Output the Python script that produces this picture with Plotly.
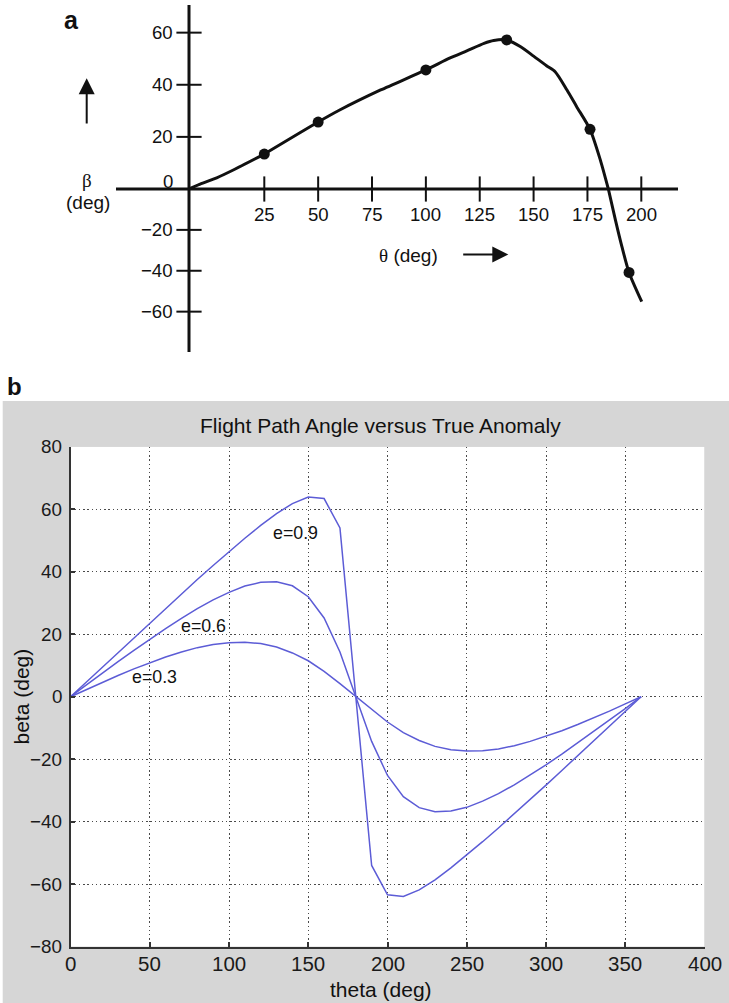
import plotly.graph_objects as go

W, H = 729, 1003


def px(x):
    """horizontal pixel -> paper fraction"""
    return x / W


def py(y):
    """vertical pixel (from top) -> paper fraction"""
    return 1 - y / H


# ---------------- panel a: sketch of beta versus theta ----------------
theta_a = [0, 3.7, 9.2, 14.7, 25, 50, 60, 79, 100, 111, 119, 127, 131.5, 137.5,
           144, 150, 156, 160, 165.5, 170, 176.2, 181, 184.7, 188, 191, 194.3, 200.2]
beta_a = [0, 1.9, 4.3, 7.3, 13.4, 25.7, 30.3, 38.0, 45.7, 50.2, 53.0, 55.9, 57.0, 57.2,
          54.6, 51.0, 47.3, 45.0, 38.0, 31.6, 22.9, 11.1, 0, -15.2, -28.2, -40.8, -55.1]
theta_pts = [25, 50, 100, 137.5, 176.2, 194.3]
beta_pts = [13.4, 25.7, 45.7, 57.2, 22.9, -40.8]
xticks_a = [25, 50, 75, 100, 125, 150, 175, 200]
yticks_a = [60, 40, 20, -20, -40, -60]

# ---------------- panel b: flight path angle for three eccentricities ----------------
theta_b = list(range(0, 361, 10))
beta_e03 = [0, 2.3, 4.6, 6.8, 8.9, 10.9, 12.7, 14.3, 15.7, 16.7, 17.3, 17.4, 17.0, 15.9, 14.0,
            11.5, 8.1, 4.2, 0, -4.2, -8.1, -11.5, -14.0, -15.9, -17.0, -17.4, -17.3, -16.7,
            -15.7, -14.3, -12.7, -10.9, -8.9, -6.8, -4.6, -2.3, 0]
beta_e06 = [0, 3.8, 7.5, 11.2, 14.8, 18.4, 21.8, 25.1, 28.2, 31.0, 33.4, 35.4, 36.6, 36.8, 35.5,
            32.0, 25.2, 14.3, 0, -14.3, -25.2, -32.0, -35.5, -36.8, -36.6, -35.4, -33.4, -31.0,
            -28.2, -25.1, -21.8, -18.4, -14.8, -11.2, -7.5, -3.8, 0]
beta_e09 = [0, 4.7, 9.5, 14.2, 18.9, 23.6, 28.3, 32.9, 37.5, 42.0, 46.4, 50.7, 54.8, 58.6, 61.8,
            63.9, 63.4, 54.0, 0, -54.0, -63.4, -63.9, -61.8, -58.6, -54.8, -50.7, -46.4, -42.0,
            -37.5, -32.9, -28.3, -23.6, -18.9, -14.2, -9.5, -4.7, 0]
series_b = [("e=0.3", beta_e03), ("e=0.6", beta_e06), ("e=0.9", beta_e09)]
xticks_b = list(range(0, 401, 50))
yticks_b = list(range(-80, 81, 20))

# ---------------- geometry (pixels) ----------------
# panel a: axes cross at (AX_X, AX_Y); the sketch scale differs between
# the first x interval and the rest, and between positive and negative beta
AX_X, AX_Y = 189, 189
X25, XEND, XLEFT = 264.3, 678, 116
YTOP, YBOT = 5, 352
SX1 = 2.1543             # px per degree beyond 25
SYP, SYN = 2.606, 2.044  # px per degree above / below zero
# panel b plot box
BX0, BX1, BY0, BY1 = 70.5, 704.5, 446.7, 946.7

SANS = "Liberation Sans"
SERIF = "Liberation Serif"
INK = "#111111"
BLUE = "rgb(92,92,214)"


def minus(v):
    return ("\u2212" + str(-v)) if v < 0 else str(v)


fig = go.Figure()

# sketch curve, split across the piecewise axes
seg_a = [(t, b) for t, b in zip(theta_a, beta_a) if t <= 25]
seg_b = [(t, b) for t, b in zip(theta_a, beta_a) if t >= 25 and b >= 0]
seg_c = [(t, b) for t, b in zip(theta_a, beta_a) if t >= 25 and b <= 0]
for seg, xa, ya in [(seg_a, "x", "y"), (seg_b, "x2", "y"), (seg_c, "x2", "y2")]:
    fig.add_trace(go.Scatter(
        x=[p[0] for p in seg], y=[p[1] for p in seg], xaxis=xa, yaxis=ya,
        mode="lines", line=dict(color=INK, width=3, shape="spline", smoothing=0.7),
        cliponaxis=False, showlegend=False, hoverinfo="skip"))

# highlighted points
for cond, ya in [(lambda b: b >= 0, "y"), (lambda b: b < 0, "y2")]:
    pts = [(t, b) for t, b in zip(theta_pts, beta_pts) if cond(b)]
    fig.add_trace(go.Scatter(
        x=[p[0] for p in pts], y=[p[1] for p in pts], xaxis="x2", yaxis=ya,
        mode="markers", marker=dict(size=11, color=INK),
        cliponaxis=False, showlegend=False, hoverinfo="skip"))

# crossing tick marks on the sketch axes
tick_marker_ns = dict(symbol="line-ns", size=18, color=INK, line=dict(width=2, color=INK))
tick_marker_ew = dict(symbol="line-ew", size=18, color=INK, line=dict(width=2, color=INK))
fig.add_trace(go.Scatter(x=xticks_a, y=[0] * len(xticks_a), xaxis="x2", yaxis="y",
                         mode="markers", marker=tick_marker_ns, cliponaxis=False,
                         showlegend=False, hoverinfo="skip"))
ypos = [v for v in yticks_a if v > 0]
yneg = [v for v in yticks_a if v < 0]
fig.add_trace(go.Scatter(x=[0] * len(ypos), y=ypos, xaxis="x", yaxis="y",
                         mode="markers", marker=tick_marker_ew, cliponaxis=False,
                         showlegend=False, hoverinfo="skip"))
fig.add_trace(go.Scatter(x=[0] * len(yneg), y=yneg, xaxis="x", yaxis="y2",
                         mode="markers", marker=tick_marker_ew, cliponaxis=False,
                         showlegend=False, hoverinfo="skip"))

# panel b curves
for name, vals in series_b:
    fig.add_trace(go.Scatter(x=theta_b, y=vals, xaxis="x3", yaxis="y3", name=name,
                             mode="lines", line=dict(color=BLUE, width=1.5),
                             showlegend=False, hoverinfo="skip"))

annotations = []


def text(x, y, s, size, xanchor="center", yanchor="middle", xref="paper", yref="paper",
         family=SANS, angle=0, color=INK):
    annotations.append(dict(x=x, y=y, xref=xref, yref=yref, text=s, showarrow=False,
                            xanchor=xanchor, yanchor=yanchor, textangle=angle,
                            font=dict(family=family, size=size, color=color)))


# panel letters
text(px(71.7), py(20.5), "<b>a</b>", 25)
text(px(14.7), py(386), "<b>b</b>", 24)

# panel a tick labels
for v in xticks_a:
    text(v, py(214), str(v), 18.6, xref="x2")
for v in ypos:
    text(px(174.5), v, str(v), 18.6, xanchor="right", yref="y")
for v in yneg:
    text(px(174.5), v, minus(v), 18.6, xanchor="right", yref="y2")
text(px(174.5), py(181), "0", 18.6, xanchor="right")

# panel a axis titles and arrows
text(px(87), py(180), "\u03b2", 19, family=SERIF)
text(px(87.5), py(202.5), "(deg)", 19)
text(px(408.7), py(256),
     '<span style="font-family:Liberation Serif">\u03b8</span> (deg)', 19)
annotations.append(dict(x=px(86.7), y=py(78.3), xref="paper", yref="paper", text="",
                        showarrow=True, ax=0, ay=46.7, arrowhead=2, arrowsize=1.6,
                        arrowwidth=2, arrowcolor=INK))
annotations.append(dict(x=px(508.3), y=py(254.5), xref="paper", yref="paper", text="",
                        showarrow=True, ax=-46.6, ay=0, arrowhead=2, arrowsize=1.6,
                        arrowwidth=2, arrowcolor=INK))

# panel b tick labels
for v in xticks_b:
    text(v, py(963.3), str(v), 20.5, xref="x3", color="#1a1a1a")
for v in yticks_b:
    text(px(64), v, minus(v), 18.8, xanchor="right", yref="y3", color="#1a1a1a")

# panel b texts
text(px(381), py(425), "Flight Path Angle versus True Anomaly", 21)
text(px(381.4), py(989), "theta (deg)", 21)
text(px(20.5), py(697), "beta (deg)", 21, angle=-90)
label_pos = {"e=0.9": (142.1, 52.3), "e=0.6": (83.8, 22.7), "e=0.3": (53.3, 6.4)}
for name, _ in series_b:
    lx, ly = label_pos[name]
    text(lx, ly, name, 17.8, xref="x3", yref="y3")

shapes = [
    # panel a axis lines
    dict(type="line", xref="paper", yref="paper", x0=px(AX_X), x1=px(AX_X),
         y0=py(YTOP), y1=py(YBOT), line=dict(color=INK, width=3)),
    dict(type="line", xref="paper", yref="paper", x0=px(XLEFT), x1=px(XEND),
         y0=py(AX_Y), y1=py(AX_Y), line=dict(color=INK, width=3)),
    # panel b grey figure window and white axes area
    dict(type="rect", xref="paper", yref="paper", x0=px(2.7), x1=1.01, y0=-0.01, y1=py(401),
         fillcolor="#d6d6d6", line=dict(width=0), layer="below"),
    dict(type="rect", xref="x3", yref="y3", x0=0, x1=400, y0=-80, y1=80,
         fillcolor="white", line=dict(width=0), layer="below"),
]

hidden = dict(visible=False, showgrid=False, zeroline=False, fixedrange=True)
grid_b = dict(showgrid=True, gridcolor="#4a4a4a", gridwidth=1, griddash="1.5px,2.7px",
              zeroline=False, showline=True, linecolor="#333333", linewidth=1.6,
              ticks="inside", ticklen=5, tickwidth=1.5, tickcolor="#333333",
              showticklabels=False, fixedrange=True)

fig.update_layout(
    width=W, height=H, autosize=False,
    margin=dict(l=0, r=0, t=0, b=0),
    paper_bgcolor="white", plot_bgcolor="white",
    showlegend=False,
    xaxis=dict(domain=[px(AX_X), px(X25)], range=[0, 25], anchor="y", **hidden),
    xaxis2=dict(domain=[px(X25), px(XEND)], range=[25, 25 + (XEND - X25) / SX1],
                anchor="y", **hidden),
    yaxis=dict(domain=[py(AX_Y), py(YTOP)], range=[0, (AX_Y - YTOP) / SYP],
               anchor="x", **hidden),
    yaxis2=dict(domain=[py(YBOT), py(AX_Y)], range=[-(YBOT - AX_Y) / SYN, 0],
                anchor="x", **hidden),
    xaxis3=dict(domain=[px(BX0), px(BX1)], range=[0, 400], anchor="y3",
                tickmode="array", tickvals=xticks_b, **grid_b),
    yaxis3=dict(domain=[py(BY1), py(BY0)], range=[-80, 80], anchor="x3",
                tickmode="array", tickvals=yticks_b, **grid_b),
    annotations=annotations,
    shapes=shapes,
)

fig.write_html("out.html")
